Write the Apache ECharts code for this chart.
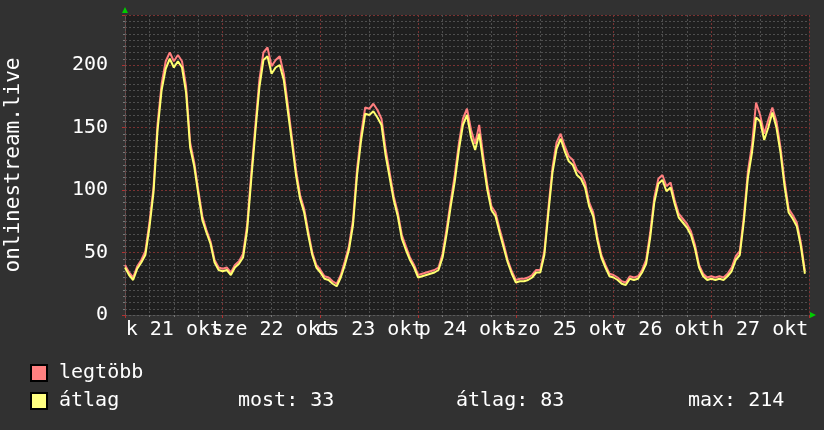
<!DOCTYPE html>
<html>
<head>
<meta charset="utf-8">
<script src="https://cdn.jsdelivr.net/npm/echarts@6/dist/echarts.min.js"></script>
<style>
html,body{margin:0;padding:0;background:#313131;}
#c{width:824px;height:430px;}
</style>
</head>
<body>
<div id="c"></div>
<script>
// Hourly values, 21 okt 00:00 -> 27 okt 23:00
const avgValues = [
  38,32,28,37,42,48,70,98,148,180,197,205,198,203,198,178,134,119,97,76,66,57,42,36,
  35,36,32,38,41,46,68,108,146,182,204,207,193,198,200,188,163,138,112,93,82,64,48,38,
  34,29,28,25,23,30,40,52,72,112,140,161,160,163,158,152,128,110,92,79,61,52,44,38,
  30,31,32,33,34,36,46,65,87,107,132,152,160,142,132,145,122,100,84,79,66,54,42,33,
  26,27,27,28,30,34,34,48,82,114,133,141,131,123,120,112,109,102,87,79,60,46,38,31,
  30,28,25,24,29,28,29,34,41,62,90,105,108,99,102,89,78,74,70,64,53,38,31,28,
  29,28,29,28,31,35,44,48,75,110,130,158,155,140,150,162,150,130,103,82,77,71,55,33
];
const maxValues = [
  40,34,30,39,44,51,74,102,153,185,203,210,203,208,203,183,138,122,100,79,68,59,44,38,
  37,38,34,40,43,49,72,113,151,188,210,214,199,204,207,193,168,142,116,96,85,67,50,40,
  36,31,30,27,25,32,43,55,76,117,145,166,165,169,164,157,133,114,95,82,64,55,46,40,
  32,33,34,35,36,38,49,69,91,112,137,157,165,148,137,152,127,104,87,82,69,57,44,35,
  28,29,29,30,32,36,36,51,86,118,138,145,135,127,124,116,113,106,90,82,63,48,40,33,
  32,30,27,26,31,30,31,36,44,66,94,109,112,103,106,92,81,77,73,67,56,40,33,30,
  31,30,31,30,33,38,47,51,79,115,136,170,160,145,156,166,155,134,107,85,80,74,58,35
];
const dayLabels = ['k 21 okt','sze 22 okt','cs 23 okt','p 24 okt','szo 25 okt','v 26 okt','h 27 okt'];
const seriesNames = ['legtöbb','átlag'];
const statTexts = ['most: 33','átlag: 83','max: 214'];
const yTitle = 'onlinestream.live';

const FONT = 'DejaVu Sans Mono';
const chart = echarts.init(document.getElementById('c'), null, {renderer:'canvas'});
const HOURS = dayLabels.length * 24;
const majorColor = '#7a3232';
const minorColor = '#4e4e4e';
const noonPos = dayLabels.map((_,i)=>i*24+12);
const labelStyle = {
  formatter: v => dayLabels[Math.round((v-12)/24)] || '',
  color:'#ffffff', fontFamily:FONT, fontSize:20, margin:5, hideOverlap:false,
  showMinLabel:true, showMaxLabel:true
};

chart.setOption({
  backgroundColor: '#313131',
  animation: false,
  grid: {left:125, right:15, top:15, bottom:115, show:true, backgroundColor:'#1f1f1f', borderWidth:0,
         containLabel:false, outerBoundsMode:'none'},
  legend: {
    orient:'vertical', left:25, top:358, itemWidth:16, itemHeight:16, itemGap:8,
    icon:'rect',
    textStyle:{color:'#ffffff', fontFamily:FONT, fontSize:20, padding:[0,0,0,7]},
    data: seriesNames
  },
  xAxis: [{
    type:'value', min:0, max:HOURS, interval:24, position:'bottom', offset:0,
    axisLine:{show:true, lineStyle:{color:'#5a5a5a', width:1, type:[2,2]}},
    axisTick:{show:true, length:3, lineStyle:{color:'#b03030'}, customValues: dayLabels.map((_,i)=>i*24).concat([HOURS])},
    minorTick:{show:true, splitNumber:4, length:2, lineStyle:{color:'#777'}},
    splitLine:{show:true, lineStyle:{color:majorColor, type:[2,2], width:1}},
    minorSplitLine:{show:true, lineStyle:{color:minorColor, type:[2,2], width:1}},
    axisLabel: Object.assign({customValues: noonPos.filter((_,i)=>i%2===0)}, labelStyle)
  },{
    type:'value', min:0, max:HOURS, interval:24, position:'bottom', offset:0,
    axisLine:{show:false}, axisTick:{show:false}, minorTick:{show:false},
    splitLine:{show:false}, minorSplitLine:{show:false},
    axisLabel: Object.assign({customValues: noonPos.filter((_,i)=>i%2===1)}, labelStyle)
  }],
  yAxis: {
    type:'value', min:0, max:240, interval:50,
    name: yTitle, nameLocation:'middle', nameGap:101, nameRotate:90,
    nameTextStyle:{color:'#ffffff', fontFamily:FONT, fontSize:21},
    axisLine:{show:true, lineStyle:{color:'#5a5a5a', width:1, type:[2,2]}},
    axisTick:{show:true, length:3, lineStyle:{color:'#b03030'}},
    minorTick:{show:true, splitNumber:10, length:2, lineStyle:{color:'#777'}},
    splitLine:{show:true, lineStyle:{color:majorColor, type:[2,2], width:1}},
    minorSplitLine:{show:true, lineStyle:{color:minorColor, type:[2,2], width:1}},
    axisLabel:{color:'#ffffff', fontFamily:FONT, fontSize:20, margin:17, showMaxLabel:false}
  },
  series: [
    {
      name: seriesNames[0], type:'line', showSymbol:false, symbol:'none',
      data: maxValues.map((v,i)=>[i,v]),
      lineStyle:{color:'#ff7f7f', width:2},
      itemStyle:{color:'#ff8080', borderColor:'#000', borderWidth:1},
      z:2
    },
    {
      name: seriesNames[1], type:'line', showSymbol:false, symbol:'none',
      data: avgValues.map((v,i)=>[i,v]),
      lineStyle:{color:'#ffff70', width:2},
      itemStyle:{color:'#ffff80', borderColor:'#000', borderWidth:1},
      z:3
    }
  ]
});

const tl = chart.convertToPixel({gridIndex:0}, [0, 240]);
const br = chart.convertToPixel({gridIndex:0}, [HOURS, 0]);
chart.setOption({
  graphic: [
    {type:'polygon', shape:{points:[[tl[0]-3, tl[1]-2],[tl[0]+3, tl[1]-2],[tl[0], tl[1]-8]]}, style:{fill:'#00cc00'}, silent:true},
    {type:'polygon', shape:{points:[[br[0]+1, br[1]-3],[br[0]+1, br[1]+3],[br[0]+7, br[1]]]}, style:{fill:'#00cc00'}, silent:true},
    {type:'text', left:238, top:391, style:{text:statTexts[0], fill:'#ffffff', font:'20px "DejaVu Sans Mono"'}},
    {type:'text', left:456, top:391, style:{text:statTexts[1], fill:'#ffffff', font:'20px "DejaVu Sans Mono"'}},
    {type:'text', left:688, top:391, style:{text:statTexts[2], fill:'#ffffff', font:'20px "DejaVu Sans Mono"'}}
  ]
});
</script>
</body>
</html>
